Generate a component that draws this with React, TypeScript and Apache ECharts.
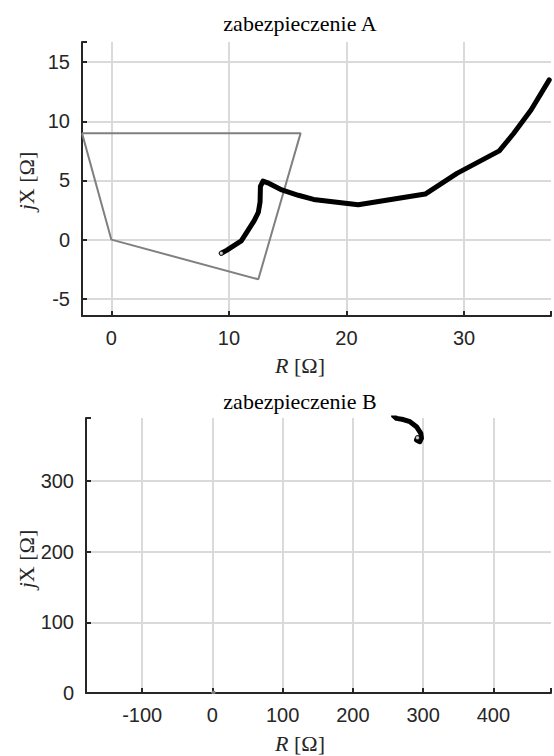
import React, { useEffect, useRef } from 'react';
import * as echarts from 'echarts';

// ---------- data ----------
const titleA = 'zabezpieczenie A';
const titleB = 'zabezpieczenie B';

// protection zone (quadrilateral) for A, in ohms
const zoneA: number[][] = [[-2.5, 9.0], [0, 0], [12.5, -3.35], [16.1, 9.0], [-2.5, 9.0]];
// impedance trajectory seen by A
const trajA: number[][] = [
  [9.35, -1.15], [9.8, -0.9], [11.05, -0.1], [11.5, 0.6], [12.15, 1.6], [12.5, 2.3],
  [12.65, 3.2], [12.68, 4.5], [12.9, 4.95], [13.3, 4.8], [14.5, 4.2], [15.9, 3.75],
  [17.2, 3.4], [21.0, 2.95], [26.7, 3.85], [29.4, 5.6], [33.0, 7.5], [34.2, 8.95],
  [35.7, 10.95], [37.25, 13.5],
];
// protection zone for B (tiny at this scale)
const zoneB: number[][] = [[-0.5, 1.8], [0, 0], [2.5, -0.7], [3.2, 1.8], [-0.5, 1.8]];
// impedance trajectory seen by B
const trajB: number[][] = [
  [258, 392], [262, 388.5], [271.7, 386.8], [281.2, 383.7], [290.5, 376.7],
  [296.7, 367.3], [297.6, 360.3], [295.3, 355.4], [290.5, 357.9], [291.9, 361.1],
];

const xRangeA = [-2.5, 37.4];
const yRangeA = [-6.45, 16.7];
const xStepA = 10;
const yStepA = 5;

const xRangeB = [-180, 482];
const yRangeB = [0, 389];
const xStepB = 100;
const yStepB = 100;

// ---------- styling ----------
const SANS = "'Liberation Sans', Arial, Helvetica, sans-serif";
const SERIF = "'Liberation Serif', 'Times New Roman', serif";
const AX = '#262626';

const isMult = (v: number, step: number) => Math.abs(v / step - Math.round(v / step)) < 1e-6;

function axis(range: number[], step: number) {
  return {
    type: 'value',
    min: range[0],
    max: range[1],
    axisLine: { show: true, onZero: false, lineStyle: { color: AX, width: 2 } },
    axisTick: { show: true, inside: true, length: 5, lineStyle: { color: AX, width: 2 } },
    axisLabel: {
      color: AX,
      fontSize: 20,
      fontFamily: SANS,
      margin: 12,
      formatter: (v: number) => (isMult(v, step) ? String(Math.round(v)) : ''),
    },
    splitLine: {
      show: true,
      showMinLine: false,
      showMaxLine: false,
      lineStyle: { color: '#dadada', width: 2 },
    },
  };
}

function makeOption(
  title: string,
  zone: number[][],
  traj: number[][],
  marker: number[],
  xr: number[],
  yr: number[],
  xs: number,
  ys: number,
  gridLeft: number,
  gridTop: number,
  gridBottom: number,
) {
  const textBase = {
    fontSize: 22,
    fontFamily: SERIF,
    fill: AX,
    align: 'center',
    verticalAlign: 'middle',
    textAlign: 'center',
    textVerticalAlign: 'middle',
  };
  const italic = { fontStyle: 'italic', fontSize: 22, fontFamily: SERIF, fill: AX };
  return {
    animation: false,
    grid: { left: gridLeft, right: 0, top: gridTop, bottom: gridBottom, containLabel: false },
    xAxis: axis(xr, xs),
    yAxis: axis(yr, ys),
    graphic: [
      { type: 'text', x: 300, y: 23, style: { ...textBase, text: title, fill: '#000' } },
      { type: 'text', x: 300, y: 365, style: { ...textBase, text: '{i|R} [Ω]', rich: { i: italic } } },
      {
        type: 'text', x: 26, y: 181, rotation: Math.PI / 2,
        style: { ...textBase, text: '{i|j}X [Ω]', rich: { i: italic } },
      },
    ],
    series: [
      {
        type: 'line',
        data: zone,
        symbol: 'none',
        clip: true,
        z: 2,
        lineStyle: { color: '#808080', width: 2 },
      },
      {
        type: 'line',
        data: traj,
        symbol: 'none',
        clip: true,
        z: 3,
        lineStyle: { color: '#000', width: 5, cap: 'round', join: 'round' },
      },
      {
        type: 'scatter',
        data: [marker],
        symbol: 'circle',
        symbolSize: 4,
        clip: true,
        z: 4,
        itemStyle: { color: '#fff', borderColor: '#000', borderWidth: 1 },
      },
    ],
  };
}

function Chart({ option, top }: { option: any; top: number }) {
  const ref = useRef<HTMLDivElement>(null);
  useEffect(() => {
    if (!ref.current) return;
    const chart = echarts.init(ref.current, undefined, { renderer: 'svg' });
    chart.setOption(option);
    return () => chart.dispose();
  }, [option]);
  return (
    <div
      ref={ref}
      style={{ position: 'absolute', left: 0, top, width: 554, height: 378, overflow: 'hidden' }}
    />
  );
}

const optionA = makeOption(titleA, zoneA, trajA, trajA[0], xRangeA, yRangeA, xStepA, yStepA, 82, 42, 62);
const optionB = makeOption(titleB, zoneB, trajB, trajB[trajB.length - 1], xRangeB, yRangeB, xStepB, yStepB, 86, 40, 63);

export default function App() {
  return (
    <div style={{ position: 'absolute', left: 0, top: 0, width: 554, height: 756, background: '#fff', overflow: 'hidden' }}>
      <Chart option={optionA} top={0} />
      <Chart option={optionB} top={378} />
    </div>
  );
}
